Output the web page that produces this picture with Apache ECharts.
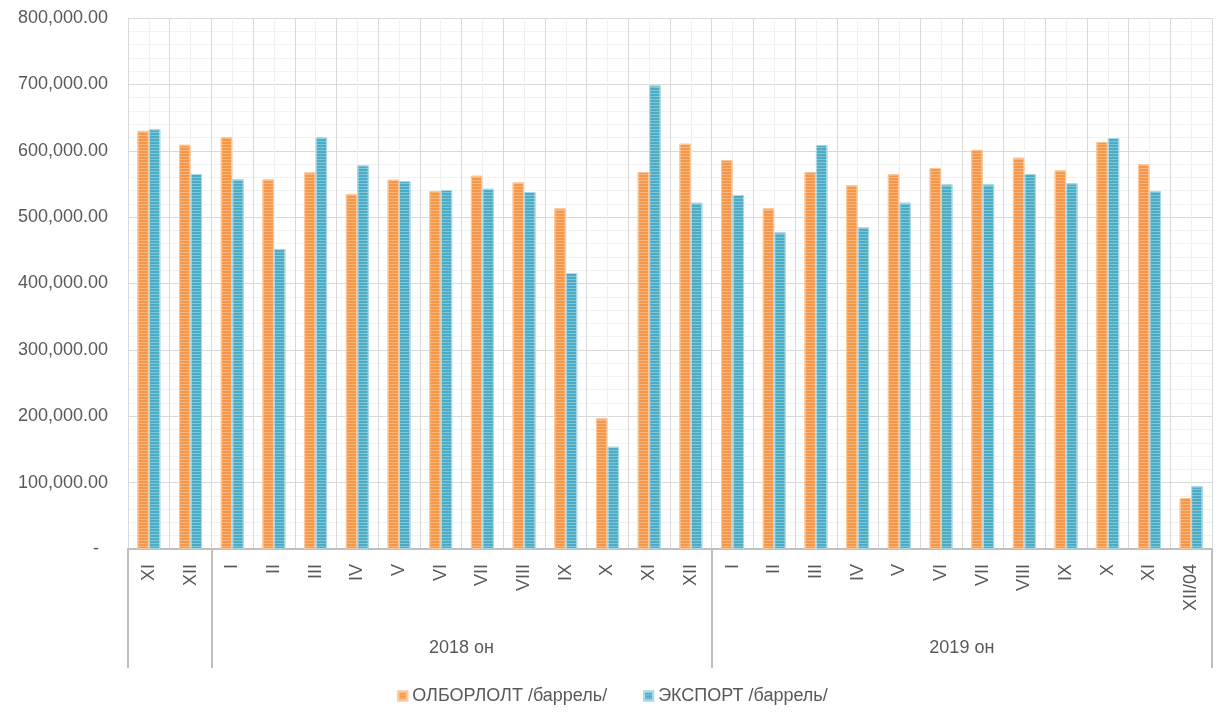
<!DOCTYPE html>
<html>
<head>
<meta charset="utf-8">
<script src="https://cdn.jsdelivr.net/npm/echarts@6/dist/echarts.min.js"></script>
<style>
html,body{margin:0;padding:0;background:#fff;}
#chart{width:1225px;height:719px;}
</style>
</head>
<body>
<div id="chart"></div>
<script>
// ---- data ----
const months = ['XI','XII','I','II','III','IV','V','VI','VII','VIII','IX','X','XI','XII','I','II','III','IV','V','VI','VII','VIII','IX','X','XI','XII/04'];
const groupNames = ['', '2018 он', '2019 он'];
const groupSpans = [2, 12, 12];
const seriesNames = ['ОЛБОРЛОЛТ /баррель/', 'ЭКСПОРТ /баррель/'];
const production = [630000, 609000, 620700, 557000, 567500, 535000, 556400, 539400, 562400, 552400, 513300, 196900, 568000, 610600, 586100, 513300, 568000, 548400, 564500, 574000, 601300, 589600, 570500, 613200, 580000, 76800];
const exportVals = [632500, 565000, 557000, 452000, 620200, 578000, 554400, 540900, 542800, 537900, 415800, 154100, 698500, 521800, 533300, 477100, 608700, 484700, 521800, 549400, 549400, 565000, 551000, 619200, 539400, 94500];
const yTicks = {min: 0, max: 800000, interval: 100000};

// ---- build half-step group axis ----
const nCat = months.length;
const halfData = new Array(nCat * 2 + 1).fill('');
const sepIdx = [0];
let acc = 0;
groupSpans.forEach((s, i) => {
  const mid = acc * 2 + s; // half-step index of group centre
  halfData[mid] = groupNames[i];
  acc += s;
  sepIdx.push(acc * 2);
});

const font = 'Liberation Sans, Arial, sans-serif';
const txt = '#595959';

const chart = echarts.init(document.getElementById('chart'), null, {renderer: 'canvas'});
chart.setOption({
  animation: false,
  backgroundColor: '#ffffff',
  grid: {left: 128, right: 13, top: 18, bottom: 170, containLabel: false},
  legend: {
    data: seriesNames,
    top: 682,
    left: 'center',
    itemWidth: 9,
    itemHeight: 9,
    itemGap: 36,
    icon: 'rect',
    textStyle: {fontFamily: font, fontSize: 18, color: txt}
  },
  xAxis: [
    {
      type: 'category',
      data: months,
      boundaryGap: true,
      axisLine: {show: true, lineStyle: {color: '#bfbfbf', width: 2}},
      axisTick: {show: false},
      axisLabel: {interval: 0, rotate: 90, margin: 15, color: txt, fontFamily: font, fontSize: 18},
      splitLine: {show: true, interval: 0, lineStyle: {color: '#d9d9d9', width: 1}}
    },
    {
      type: 'category',
      data: halfData,
      boundaryGap: false,
      position: 'bottom',
      axisLine: {show: false},
      axisTick: {show: true, length: 119, interval: (i) => sepIdx.indexOf(i) >= 0, lineStyle: {color: '#bfbfbf', width: 2}},
      axisLabel: {interval: 0, margin: 90, color: txt, fontFamily: font, fontSize: 18},
      splitLine: {show: true, interval: (i) => i % 2 === 1, lineStyle: {color: '#f0f0f0', width: 1}}
    }
  ],
  yAxis: {
    type: 'value',
    min: yTicks.min,
    max: yTicks.max,
    interval: yTicks.interval,
    axisLine: {show: false},
    axisTick: {show: false},
    axisLabel: {
      margin: 20,
      color: txt,
      fontFamily: font,
      fontSize: 18,
      formatter: (v) => v === 0 ? '{z|-}' : v.toLocaleString('en-US', {minimumFractionDigits: 2, maximumFractionDigits: 2}),
      rich: {z: {color: txt, fontFamily: font, fontSize: 18, padding: [0, 9, 0, 0]}}
    },
    splitLine: {show: true, lineStyle: {color: '#d9d9d9', width: 1}},
    minorTick: {show: false, splitNumber: 5},
    minorSplitLine: {show: true, lineStyle: {color: '#f2f2f2', width: 1}}
  },
  series: [
    {
      name: seriesNames[0],
      type: 'bar',
      xAxisIndex: 0,
      data: production,
      barWidth: 11.5,
      barGap: '0%',
      itemStyle: {
        color: '#F79646',
        borderColor: '#fbc89c',
        borderWidth: 1,
        decal: {symbol: 'rect', symbolSize: 1, dashArrayX: [1, 0], dashArrayY: [1, 2], rotation: 0, color: 'rgba(255,255,255,0.3)'}
      }
    },
    {
      name: seriesNames[1],
      type: 'bar',
      xAxisIndex: 0,
      data: exportVals,
      barWidth: 11.5,
      barGap: '0%',
      itemStyle: {
        color: '#4BACC6',
        borderColor: '#a9d8e6',
        borderWidth: 1,
        decal: {symbol: 'rect', symbolSize: 1, dashArrayX: [1, 0], dashArrayY: [1, 2], rotation: 0, color: 'rgba(255,255,255,0.3)'}
      }
    }
  ]
});
</script>
</body>
</html>
